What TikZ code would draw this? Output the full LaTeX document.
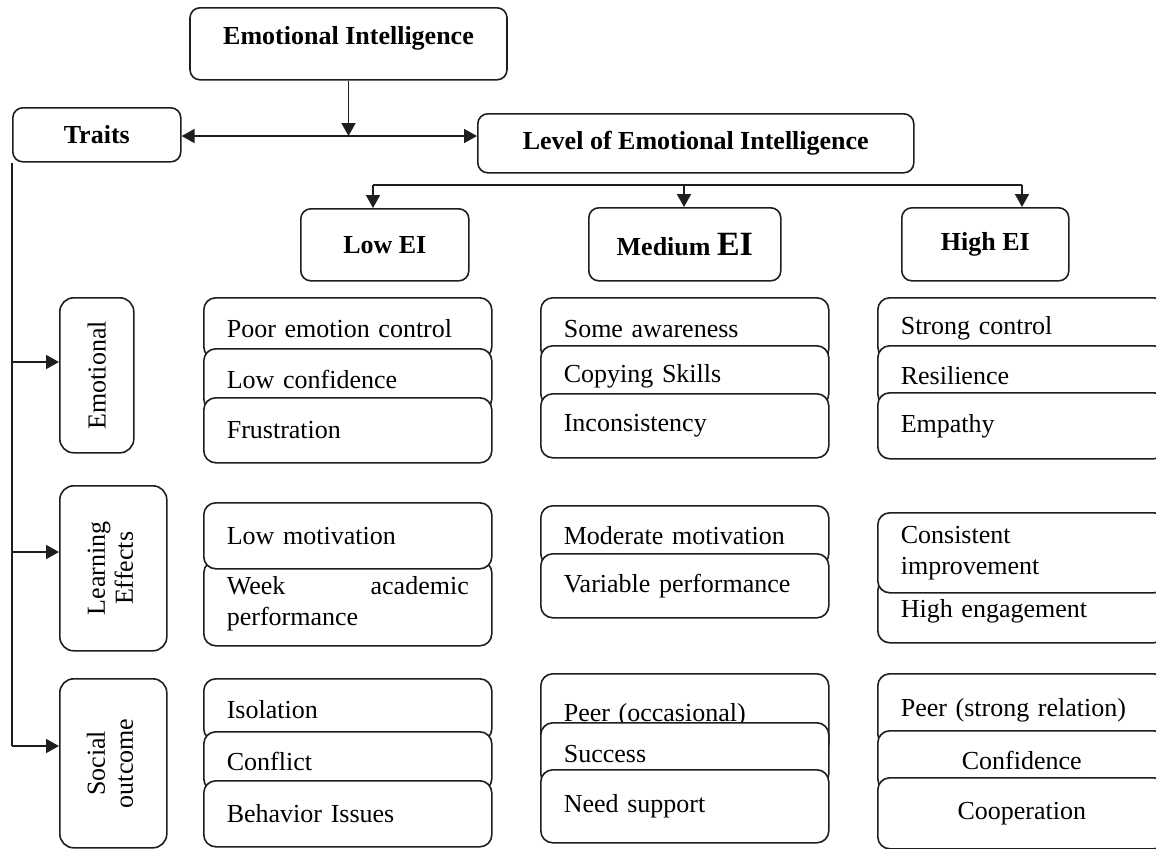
\documentclass[tikz,border=0pt]{standalone}
\usepackage{fontspec}
\setmainfont{Liberation Serif}
\usepackage{tikz}
\usetikzlibrary{arrows.meta,positioning,calc}
\usepackage{xcolor}
\definecolor{ink}{HTML}{1e1e1e}

\begin{document}
\begin{tikzpicture}[x=0.5pt,y=-0.5pt,
  hd/.style={draw=ink,line width=0.8pt,rounded corners=5pt,anchor=north west,inner sep=0pt,font=\fontsize{13}{15}\selectfont\bfseries},
  it/.style={draw=ink,line width=0.8pt,fill=white,rounded corners=6pt,anchor=north west,minimum width=144pt,text width=121pt,inner xsep=11.5pt,inner ysep=0pt,align=left,font=\fontsize{13}{15.5}\selectfont},
  rw/.style={draw=ink,line width=0.8pt,rounded corners=7pt,anchor=north west,inner sep=0pt,font=\fontsize{13}{14}\selectfont},
  arr/.style={draw=ink,line width=0.9pt,-{Triangle[length=6.5pt,width=7pt]}},
  ln/.style={draw=ink,line width=0.9pt}]
 \useasboundingbox (0,0) rectangle (1156,848);
 % top part
 \node[hd,anchor=north,minimum width=158.5pt,text height=18.5pt,text depth=17.5pt] (ei) at (348.5,7) {Emotional Intelligence};
 \node[hd,minimum width=84pt,minimum height=27pt] (traits) at (12,107) {Traits};
 \node[hd,minimum width=218pt,minimum height=29.5pt] (level) at (477,113) {Level of Emotional Intelligence};
 \node[hd,minimum width=84pt,minimum height=36pt] (low) at (300,208) {Low EI};
 \node[hd,minimum width=96pt,minimum height=36.5pt] (med) at (588,207) {Medium {\fontsize{17}{20}\selectfont EI}};
 \node[hd,minimum width=83.5pt,minimum height=36.5pt] (high) at (901,207) {High EI};
 \coordinate (j) at (348.5,136);
 \draw[arr] (ei.south) -- (j);
 \draw[arr] (j) -- (j -| traits.east);
 \draw[arr] (j) -- (j -| level.west);
 \coordinate (d1) at (373,185);
 \coordinate (d2) at (684,185);
 \coordinate (d3) at (1022,185);
 \draw[ln] (d1) -- (d3);
 \draw[arr] (d1) -- (d1 |- low.north);
 \draw[arr] (d2) -- (d2 |- med.north);
 \draw[arr] (d3) -- (d3 |- high.north);
 % row labels
 \node[rw,minimum width=37pt,minimum height=77.5pt] (emo) at (59,297) {\rotatebox{90}{Emotional}};
 \node[rw,minimum width=53.5pt,minimum height=82.5pt] (learn) at (59,485) {\rotatebox{90}{\begin{tabular}{@{}c@{}}Learning\\Effects\end{tabular}}};
 \node[rw,minimum width=53.5pt,minimum height=84.5pt] (social) at (59,678) {\rotatebox{90}{\begin{tabular}{@{}c@{}}Social\\outcome\end{tabular}}};
 \coordinate (b1) at (12,362);
 \coordinate (b2) at (12,552);
 \coordinate (b3) at (12,746);
 \draw[ln] (traits.south west) -- (b3);
 \draw[arr] (b1) -- (b1 -| emo.west);
 \draw[arr] (b2) -- (b2 -| learn.west);
 \draw[arr] (b3) -- (b3 -| social.west);
 % low EI
 \node[it,minimum height=30.5pt] (le1) at (203,297) {Poor emotion control};
 \node[it,minimum height=31pt] (le2) at (203,348) {Low confidence};
 \node[it,minimum height=32.5pt] (le3) at (203,397) {Frustration};
 \node[it,minimum height=42.5pt] (ll2) at (203,560) {Week\hfill academic\\performance};
 \node[it,minimum height=33pt] (ll1) at (203,502) {Low motivation};
 \node[it,minimum height=31pt] (ls1) at (203,678) {Isolation};
 \node[it,minimum height=29.5pt] (ls2) at (203,731) {Conflict};
 \node[it,minimum height=33pt] (ls3) at (203,780) {Behavior Issues};
 % medium EI
 \node[it,minimum height=31.5pt] (me1) at (540,297) {Some awareness};
 \node[it,minimum height=30pt] (me2) at (540,345) {Copying Skills};
 \node[it,minimum height=32pt] (me3) at (540,393) {Inconsistency};
 \node[it,minimum height=30pt] (ml1) at (540,505) {Moderate motivation};
 \node[it,minimum height=32pt] (ml2) at (540,553) {Variable performance};
 \node[it,minimum height=41pt] (ms1) at (540,673) {Peer (occasional)};
 \node[it,minimum height=31.5pt] (ms2) at (540,722) {Success};
 \node[it,minimum height=36.5pt] (ms3) at (540,769) {Need support};
 % high EI
 \node[it,minimum height=30.5pt] (he1) at (877,297) {Strong control};
 \node[it,minimum height=30pt] (he2) at (877,345) {Resilience};
 \node[it,minimum height=33pt] (he3) at (877,392) {Empathy};
 \node[it,minimum height=32pt] (hl2) at (877,578) {High engagement};
 \node[it,minimum height=40pt] (hl1) at (877,512) {Consistent\\improvement};
 \node[it,minimum height=36pt] (hs1) at (877,673) {Peer (strong relation)};
 \node[it,minimum height=30pt,align=center] (hs2) at (877,730) {Confidence};
 \node[it,minimum height=35.5pt,align=center] (hs3) at (877,777) {Cooperation};
\end{tikzpicture}
\end{document}
